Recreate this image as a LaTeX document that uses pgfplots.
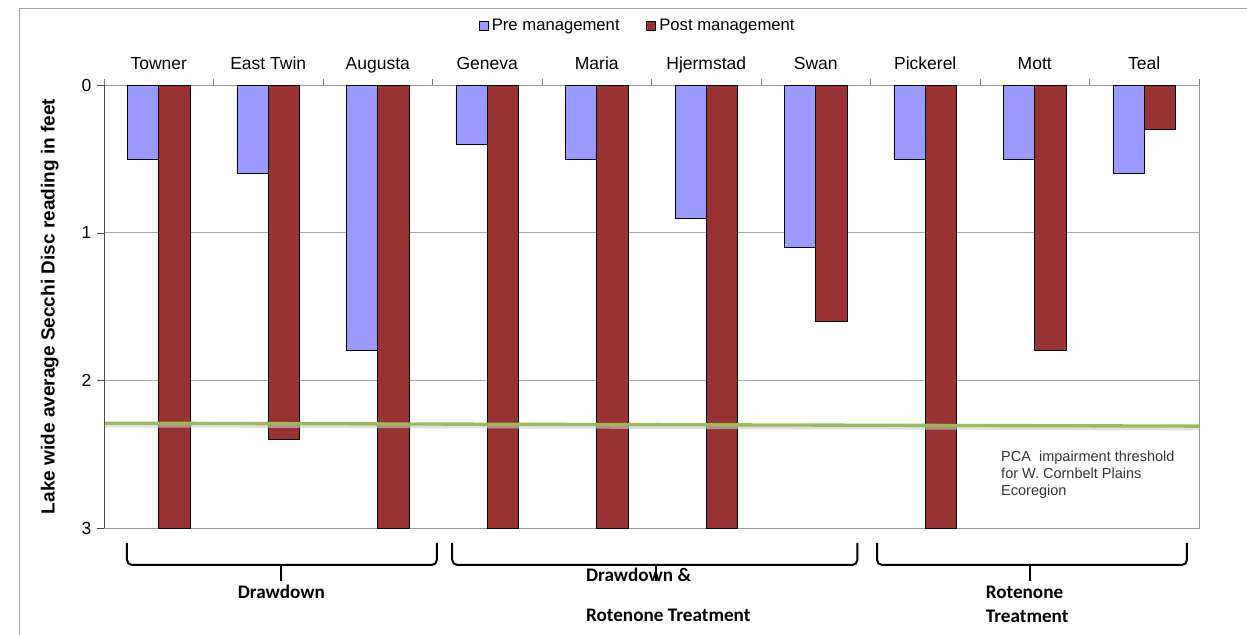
\documentclass[border=0pt]{standalone}
\usepackage{pgfplots}
\pgfplotsset{compat=1.18}
\usepackage{fontspec}
\setmainfont{Liberation Sans}
\newfontfamily\calibri{Carlito}

\definecolor{preC}{RGB}{153,153,255}
\definecolor{postC}{RGB}{153,51,51}
\definecolor{threshC}{RGB}{155,187,89}
\definecolor{frameC}{RGB}{160,160,160}

\begin{document}
\begin{tikzpicture}
\begin{axis}[
  at={(0,0)}, anchor=south west,
  scale only axis,
  width=657pt, height=265.8pt,
  ybar=0pt, bar width=18.85pt,
  xmin=-0.5, xmax=9.5,
  ymin=0, ymax=3,
  y dir=reverse,
  clip=false,
  xtick={-0.5,0.5,...,9.5},
  x tick label as interval,
  xticklabels={Towner,East Twin,Augusta,Geneva,Maria,Hjermstad,Swan,Pickerel,Mott,Teal},
  x tick style={draw=none},
  xtick pos=upper, xticklabel pos=upper,
  ytick={0,1,2,3},
  ytick pos=left,
  tick align=outside,
  major tick length=4pt,
  ytick style={gray!60!black},
  ymajorgrids=true,
  major grid style={gray!70},
  axis line style={gray!80},
  tick label style={font=\fontsize{10.5}{12}\selectfont, /pgf/number format/assume math mode=true},
  xticklabel style={text height=8pt, text depth=0pt, yshift=1.6pt},
  ylabel={\bfseries Lake wide average Secchi Disc reading in feet},
  ylabel style={font=\fontsize{11.4}{13}\selectfont, yshift=7pt},
  legend style={at={(0.488,1.134)}, anchor=center, draw=none, legend columns=2,
    font=\fontsize{10}{12}\selectfont, /tikz/every even column/.append style={column sep=14pt}},
  legend image code/.code={\draw[#1, draw=black, bar width=0pt] (0pt,-2.7pt) rectangle (5.4pt,2.7pt);},
]
\addplot[fill=preC, draw=black] coordinates {
  (0,0.5) (1,0.6) (2,1.8) (3,0.4) (4,0.5) (5,0.9) (6,1.1) (7,0.5) (8,0.5) (9,0.6)};
\addplot[fill=postC, draw=black] coordinates {
  (0,3) (1,2.4) (2,3) (3,3) (4,3) (5,3) (6,1.6) (7,3) (8,1.8) (9,0.3)};
\legend{Pre management, Post management}

% threshold line with soft shadow
\addplot[sharp plot, forget plot, black!20, opacity=0.6, line width=2.4pt]
  coordinates {(-0.5,2.305) (9.5,2.325)};
\addplot[sharp plot, forget plot, threshC, line width=2pt]
  coordinates {(-0.5,2.29) (9.5,2.31)};

\node[anchor=west, align=left, text=black!80, font=\fontsize{8.7}{10.4}\selectfont]
  at (axis cs:7.64,2.64) {PCA\ \ impairment threshold\\for W. Cornbelt Plains\\Ecoregion};

% left axis line a bit darker, and small category separators on top
\draw[gray!60!black] (rel axis cs:0,0) -- (rel axis cs:0,1);
\pgfplotsinvokeforeach{-0.5,0.5,1.5,2.5,3.5,4.5,5.5,6.5,7.5,8.5,9.5}{
  \draw[gray, line width=0.6pt] (axis cs:#1,0) -- ++(0pt,3.5pt);
}

% group braces
\begin{scope}[line width=1.2pt, rounded corners=3pt]
\draw (axis cs:-0.29,3.10) -- (axis cs:-0.29,3.25) -- (axis cs:2.54,3.25) -- (axis cs:2.54,3.10);
\draw (axis cs:1.12,3.25) -- (axis cs:1.12,3.36);
\draw (axis cs:2.68,3.10) -- (axis cs:2.68,3.25) -- (axis cs:6.38,3.25) -- (axis cs:6.38,3.10);
\draw (axis cs:4.54,3.25) -- (axis cs:4.54,3.36);
\draw (axis cs:6.56,3.10) -- (axis cs:6.56,3.25) -- (axis cs:9.39,3.25) -- (axis cs:9.39,3.10);
\draw (axis cs:7.96,3.25) -- (axis cs:7.96,3.36);
\end{scope}
\node[font=\calibri\bfseries\fontsize{11.5}{14}\selectfont] at (axis cs:1.12,3.43) {Drawdown};
\node[anchor=north west, align=left, inner sep=0pt, font=\calibri\bfseries\fontsize{11.5}{24}\selectfont]
  at (axis cs:3.90,3.27) {Drawdown \&\\Rotenone Treatment};
\node[anchor=north west, align=left, inner sep=0pt, font=\calibri\bfseries\fontsize{11.5}{14.4}\selectfont]
  at (axis cs:7.55,3.39) {Rotenone\\Treatment};
\end{axis}
% outer chart frame
\draw[frameC, line width=0.6pt] (-50.4pt,-70pt) -- (-50.4pt,311.4pt) -- (700pt,311.4pt);
\pgfresetboundingbox
\path[use as bounding box] (-62.4pt,-63.6pt) rectangle (685.8pt,316.8pt);
\end{tikzpicture}
\end{document}
